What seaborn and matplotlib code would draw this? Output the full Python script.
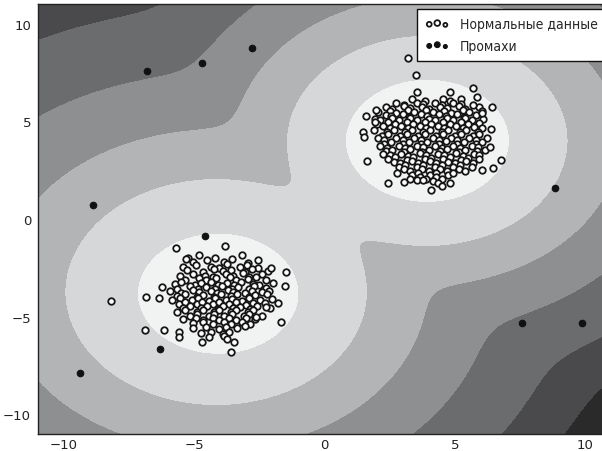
import numpy as np
import pandas as pd
import matplotlib
matplotlib.use("Agg")
import matplotlib.pyplot as plt
import seaborn as sns
from matplotlib.collections import PathCollection
from matplotlib.legend_handler import HandlerPathCollection
from matplotlib.font_manager import FontProperties

# ---------------- data ----------------
# normal data, lower-left cluster (x, y)
lower_pts = [
    (-5.25, -1.97), (-4.83, -1.86), (-4.22, -2.0), (-3.16, -1.83),
    (-5.06, -2.22), (-4.5, -2.08), (-3.84, -2.2), (-3.57, -2.05), (-2.93, -2.24), (-2.55, -2.1),
    (-5.44, -2.46), (-4.95, -2.33), (-4.36, -2.44), (-4.04, -2.52), (-3.73, -2.3), (-3.24, -2.45),
    (-2.96, -2.36), (-2.56, -2.5),
    (-5.27, -2.6), (-4.66, -2.72), (-4.25, -2.57), (-3.9, -2.68), (-3.6, -2.6), (-3.05, -2.73),
    (-2.8, -2.55), (-2.17, -2.66),
    (-5.55, -2.93), (-5.05, -2.79), (-4.6, -2.9), (-4.27, -2.98), (-3.8, -2.8), (-3.5, -2.92),
    (-3.14, -2.78), (-2.88, -2.95), (-2.4, -2.83),
    (-5.35, -3.12), (-4.8, -3.0), (-4.55, -3.14), (-4.18, -3.04), (-3.64, -2.98), (-3.4, -3.12),
    (-2.95, -3.09), (-2.64, -2.99), (-2.26, -3.14),
    (-5.75, -3.33), (-5.5, -3.22), (-4.97, -3.37), (-4.74, -3.26), (-4.36, -3.2), (-4.1, -3.36),
    (-3.75, -3.25), (-3.46, -3.38), (-3.2, -3.22), (-2.76, -3.31), (-2.5, -3.4), (-1.96, -3.26),
    (-5.65, -3.57), (-5.16, -3.45), (-4.86, -3.58), (-4.55, -3.49), (-4.2, -3.6), (-3.94, -3.44),
    (-3.55, -3.56), (-3.34, -3.48), (-2.9, -3.59), (-2.7, -3.44), (-2.26, -3.55),
    (-5.95, -3.68), (-5.5, -3.77), (-5.05, -3.64), (-4.8, -3.76), (-4.35, -3.67), (-4.14, -3.79),
    (-3.7, -3.63), (-3.5, -3.74), (-3.05, -3.8), (-2.8, -3.66), (-2.4, -3.75), (-2.14, -3.68),
    (-5.66, -3.94), (-5.34, -3.85), (-4.9, -3.97), (-4.65, -3.87), (-4.26, -3.99), (-3.99, -3.86),
    (-3.6, -3.96), (-3.35, -3.84), (-2.9, -3.98), (-2.65, -3.89), (-2.2, -3.83),
    (-5.85, -4.14), (-5.55, -4.04), (-5.1, -4.16), (-4.84, -4.06), (-4.45, -4.18), (-4.2, -4.03),
    (-3.8, -4.15), (-3.55, -4.07), (-3.15, -4.17), (-2.9, -4.05), (-2.46, -4.12), (-2.0, -4.09),
    (-5.6, -4.34), (-5.35, -4.25), (-4.9, -4.37), (-4.7, -4.27), (-4.3, -4.36), (-4.05, -4.24),
    (-3.65, -4.35), (-3.4, -4.26), (-3.0, -4.38), (-2.75, -4.28), (-2.3, -4.32),
    (-5.45, -4.54), (-5.15, -4.46), (-4.75, -4.57), (-4.5, -4.47), (-4.1, -4.58), (-3.9, -4.45),
    (-3.5, -4.55), (-3.25, -4.48), (-2.85, -4.59), (-2.6, -4.46), (-2.1, -4.53),
    (-5.65, -4.74), (-5.35, -4.65), (-4.9, -4.77), (-4.65, -4.67), (-4.25, -4.78), (-4.05, -4.65),
    (-3.6, -4.75), (-3.4, -4.66), (-2.95, -4.76), (-2.75, -4.68),
    (-5.15, -4.94), (-4.9, -4.85), (-4.45, -4.97), (-4.25, -4.87), (-3.85, -4.98), (-3.55, -4.86),
    (-3.1, -4.96), (-2.9, -4.87), (-2.4, -4.95),
    (-5.45, -5.14), (-4.95, -5.05), (-4.65, -5.17), (-4.3, -5.07), (-4.05, -5.16), (-3.65, -5.04),
    (-3.4, -5.15), (-3.0, -5.06), (-2.65, -5.14),
    (-5.05, -5.34), (-4.65, -5.26), (-4.3, -5.37), (-3.85, -5.27), (-3.6, -5.36), (-3.15, -5.25),
    (-2.85, -5.35),
    (-5.05, -5.59), (-4.55, -5.51), (-4.05, -5.62), (-3.8, -5.52), (-3.35, -5.6), (-3.05, -5.49),
    (-4.75, -5.84), (-4.35, -5.76), (-3.9, -5.86), (-3.65, -5.77),
    (-4.45, -6.04), (-3.85, -5.97),
    # scattered points round the edge
    (-8.18, -4.19), (-6.86, -4.0), (-6.9, -5.66), (-6.15, -5.66), (-5.7, -1.47), (-3.81, -1.38),
    (-4.72, -6.31), (-3.59, -6.79), (-1.67, -5.25), (-1.79, -4.28), (-1.51, -3.41), (-1.47, -2.69),
    (-2.05, -2.49), (-5.58, -5.76), (-5.58, -6.02), (-3.46, -6.31), (-3.74, -6.16), (-5.32, -2.05),
    (-6.22, -3.46), (-6.35, -4.06), (-2.24, -4.48), (-2.63, -5.0),
]

# normal data, upper-right cluster (x, y)
upper_pts = [
    (3.35, 6.14), (3.85, 6.06), (4.55, 6.15), (4.8, 6.04), (5.25, 6.12),
    (2.75, 5.93), (3.05, 5.85), (3.55, 5.96), (3.8, 5.87), (4.25, 5.94), (4.5, 5.84), (4.95, 5.95),
    (5.25, 5.86),
    (2.35, 5.74), (2.6, 5.65), (3.05, 5.76), (3.3, 5.66), (3.75, 5.75), (4.0, 5.64), (4.45, 5.73),
    (4.7, 5.66), (5.15, 5.77), (5.4, 5.65), (5.95, 5.72),
    (2.05, 5.46), (2.5, 5.55), (2.75, 5.44), (3.2, 5.56), (3.45, 5.47), (3.9, 5.57), (4.15, 5.45),
    (4.6, 5.54), (4.85, 5.43), (5.3, 5.56), (5.55, 5.46), (6.05, 5.53),
    (2.35, 5.34), (2.55, 5.25), (3.0, 5.36), (3.25, 5.24), (3.7, 5.35), (3.95, 5.26), (4.4, 5.37),
    (4.65, 5.25), (5.1, 5.35), (5.35, 5.24), (5.8, 5.33),
    (1.95, 5.14), (2.15, 5.05), (2.6, 5.15), (2.85, 5.04), (3.3, 5.16), (3.55, 5.06), (4.0, 5.14),
    (4.25, 5.05), (4.7, 5.16), (4.95, 5.04), (5.4, 5.15), (5.65, 5.06), (6.1, 5.12),
    (2.0, 4.86), (2.45, 4.95), (2.7, 4.85), (3.15, 4.96), (3.4, 4.84), (3.85, 4.94), (4.1, 4.86),
    (4.55, 4.97), (4.8, 4.85), (5.25, 4.95), (5.5, 4.86), (5.95, 4.93),
    (2.25, 4.74), (2.5, 4.65), (2.95, 4.75), (3.2, 4.64), (3.65, 4.76), (3.9, 4.66), (4.35, 4.74),
    (4.6, 4.65), (5.05, 4.76), (5.3, 4.64), (5.75, 4.73), (6.05, 4.66),
    (1.9, 4.54), (2.4, 4.46), (2.65, 4.55), (3.1, 4.44), (3.35, 4.56), (3.8, 4.45), (4.05, 4.55),
    (4.5, 4.46), (4.75, 4.57), (5.2, 4.45), (5.45, 4.54), (5.9, 4.47),
    (2.2, 4.26), (2.45, 4.35), (2.9, 4.24), (3.15, 4.36), (3.6, 4.25), (3.85, 4.34), (4.3, 4.26),
    (4.55, 4.37), (5.0, 4.25), (5.25, 4.34), (5.7, 4.26), (5.95, 4.33),
    (2.05, 4.14), (2.3, 4.05), (2.75, 4.15), (3.0, 4.04), (3.45, 4.16), (3.7, 4.06), (4.15, 4.14),
    (4.4, 4.05), (4.85, 4.16), (5.1, 4.04), (5.55, 4.15), (5.8, 4.06), (6.25, 4.12),
    (2.3, 3.86), (2.55, 3.95), (3.0, 3.85), (3.25, 3.96), (3.7, 3.84), (3.95, 3.94), (4.4, 3.86),
    (4.65, 3.97), (5.1, 3.85), (5.35, 3.94), (5.8, 3.86), (6.05, 3.93),
    (2.15, 3.74), (2.4, 3.65), (2.85, 3.76), (3.1, 3.64), (3.55, 3.75), (3.8, 3.66), (4.25, 3.74),
    (4.5, 3.65), (4.95, 3.76), (5.2, 3.64), (5.65, 3.73), (5.9, 3.66),
    (2.35, 3.46), (2.6, 3.55), (3.05, 3.44), (3.3, 3.56), (3.75, 3.45), (4.0, 3.54), (4.45, 3.46),
    (4.7, 3.57), (5.15, 3.45), (5.4, 3.54), (5.85, 3.46), (6.15, 3.53),
    (2.25, 3.34), (2.5, 3.25), (2.95, 3.35), (3.2, 3.24), (3.65, 3.36), (3.9, 3.26), (4.35, 3.34),
    (4.6, 3.25), (5.05, 3.36), (5.3, 3.24), (5.75, 3.33), (5.95, 3.26),
    (2.45, 3.06), (2.7, 3.15), (3.15, 3.04), (3.4, 3.16), (3.85, 3.05), (4.1, 3.14), (4.55, 3.06),
    (4.8, 3.15), (5.25, 3.04), (5.5, 3.14), (5.95, 3.06),
    (2.65, 2.94), (2.9, 2.85), (3.35, 2.95), (3.6, 2.84), (4.05, 2.96), (4.3, 2.86), (4.75, 2.94),
    (5.0, 2.85), (5.45, 2.95), (5.7, 2.86),
    (2.85, 2.66), (3.1, 2.75), (3.55, 2.64), (3.8, 2.76), (4.25, 2.65), (4.5, 2.74), (4.95, 2.66),
    (5.2, 2.75), (5.65, 2.64),
    (3.05, 2.54), (3.3, 2.45), (3.75, 2.55), (4.0, 2.44), (4.45, 2.56), (4.7, 2.46), (5.15, 2.54),
    (5.4, 2.45),
    (3.35, 2.26), (3.6, 2.35), (4.05, 2.25), (4.3, 2.34), (4.75, 2.26), (4.95, 2.33),
    (3.65, 2.14), (3.9, 2.05), (4.3, 2.15), (4.5, 2.06),
    (4.15, 1.94), (4.35, 1.86),
    # scattered points round the edge
    (3.2, 8.25), (3.5, 7.37), (3.56, 6.51), (4.83, 6.51), (5.7, 6.72), (5.87, 6.22), (5.7, 5.83),
    (6.45, 5.71), (1.58, 5.27), (1.47, 4.43), (1.51, 4.21), (1.64, 2.97), (2.44, 1.83), (2.8, 2.34),
    (3.05, 1.91), (4.1, 1.48), (6.47, 2.62), (6.76, 3.02), (6.03, 2.51), (6.38, 4.6), (6.35, 3.67),
    (6.03, 5.41), (1.96, 5.58), (1.92, 4.98), (3.3, 2.05), (3.55, 2.0), (3.8, 2.02), (4.5, 1.7),
    (4.8, 1.85),
]

# outliers (Промахи)
outlier_x = [-6.8, -4.7, -2.8, -8.9, -4.6, -6.3, -9.4, 8.85, 7.6, 9.9]
outlier_y = [7.55, 8.0, 8.75, 0.7, -0.85, -6.65, -7.9, 1.6, -5.3, -5.3]

# background score field: cluster centres and band levels / greys
centre_low = (-4.05, -3.85)
centre_up = (3.95, 4.0)
band_levels = [-100, 3.1, 5.8, 8.2, 10.85, 13.8, 16.1, 100]
band_colors = ["#f1f2f2", "#d6d7d8", "#b3b4b6", "#8e8f91", "#6b6c6e", "#4a4a4c", "#2b2a2a"]

labels = ["Нормальные данные", "Промахи"]
tick_vals = [-10, -5, 0, 5, 10]

# ---------------- build tables ----------------
pts = lower_pts + upper_pts
normal = pd.DataFrame({"x": [p[0] for p in pts], "y": [p[1] for p in pts]})
outl = pd.DataFrame({"x": outlier_x, "y": outlier_y})

# ---------------- figure ----------------
sns.set_theme(style="white")
plt.rcParams["font.family"] = ["DejaVu Sans"]
plt.rcParams["axes.unicode_minus"] = True

fig = plt.figure(figsize=(6.02, 4.52), dpi=100)
ax = fig.add_axes([38 / 602, 17 / 452, 573 / 602, 430 / 452])

g = np.linspace(-11, 11, 450)
xx, yy = np.meshgrid(g, g)
dxl, dyl = xx - centre_low[0], yy - centre_low[1]
r_low = np.hypot(dxl, dyl)
proj = (dyl - dxl) / np.sqrt(2)
d_low = r_low - 0.07 * proj * (r_low / 15.0)
d_up = 1.2 * np.hypot(xx - centre_up[0], yy - centre_up[1]) - 0.68
soft = 0.6
m = np.minimum(d_low, d_up)
Z = m - soft * np.log(np.exp(-(d_low - m) / soft) + np.exp(-(d_up - m) / soft))
ax.contourf(xx, yy, Z, levels=band_levels, colors=band_colors, antialiased=False)

sns.scatterplot(data=normal, x="x", y="y", ax=ax, color="white", edgecolor="#161616",
                linewidth=1.3, s=22, label=labels[0], zorder=3)
sns.scatterplot(data=outl, x="x", y="y", ax=ax, color="#111111", edgecolor="#111111",
                linewidth=0.8, s=22, label=labels[1], zorder=4)

ax.set_xlim(-11, 11)
ax.set_ylim(-11, 11)
ax.set_xticks(tick_vals)
ax.set_yticks(tick_vals)
ax.set_xlabel("")
ax.set_ylabel("")
ax.tick_params(direction="in", top=True, right=True, length=4, width=0.8,
               labelsize=9.5, colors="#222222", labelcolor="#222222")
ax.tick_params(axis="x", pad=3)
ax.tick_params(axis="y", pad=5)
for sp in ax.spines.values():
    sp.set_color("#222222")
    sp.set_linewidth(1.0)

leg_font = FontProperties(family="DejaVu Sans", stretch="condensed", size=10)
leg = ax.legend(loc="upper right", scatterpoints=3, scatteryoffsets=[0.375, 0.5, 0.3125],
                handler_map={PathCollection: HandlerPathCollection(sizes=[12, 17, 8])},
                prop=leg_font, frameon=True, fancybox=False, framealpha=1, borderaxespad=0.33,
                handlelength=1.76, handletextpad=0.77, labelspacing=0.55, borderpad=0.6)
leg.get_frame().set_edgecolor("#111111")
leg.get_frame().set_linewidth(1.0)

fig.savefig("out.png", dpi=100)
